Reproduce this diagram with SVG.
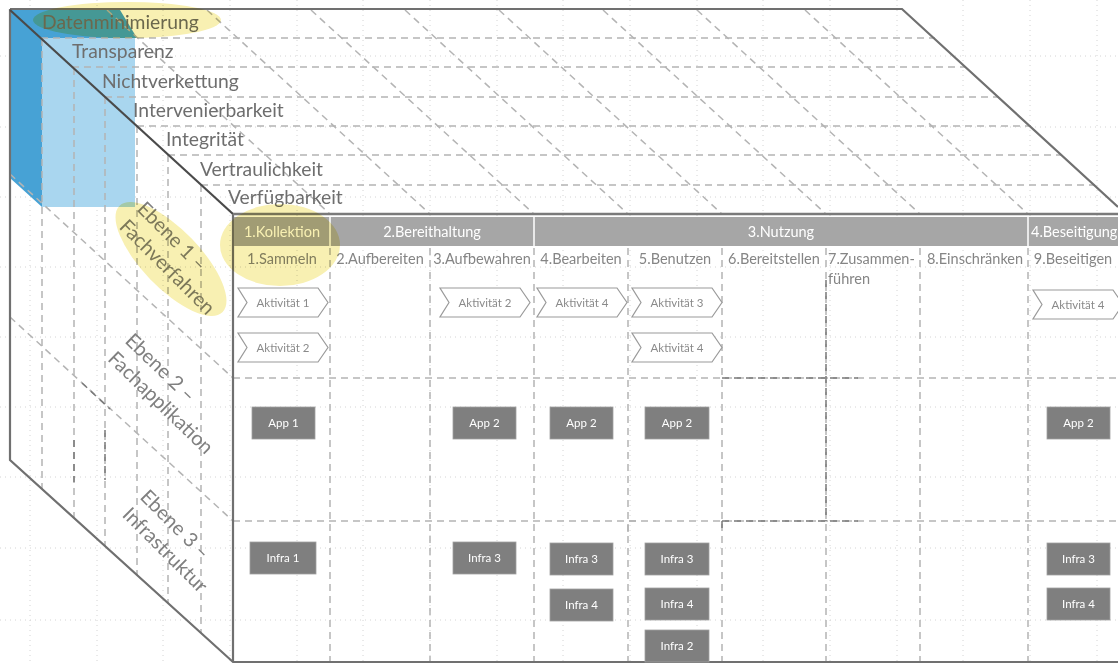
<svg xmlns="http://www.w3.org/2000/svg" xmlns:xlink="http://www.w3.org/1999/xlink" width="1118" height="664" viewBox="0 0 1118 664">
<style>
  text { font-family: Lato, "Open Sans", "Liberation Sans", sans-serif; }
  .lbl { font-size: 19.3px; fill: #6e6e6e; }
  .ebene { font-size: 20px; fill: #808080; }
  .hdr { font-size: 14.5px; fill: #ffffff; text-anchor: middle; }
  .step { font-size: 14.5px; fill: #858585; text-anchor: middle; }
  .grid { stroke: #d4d4d4; stroke-width: 1; stroke-dasharray: 1 4; fill: none; }
  .dash { stroke: #b4b4b4; stroke-width: 1.5; stroke-dasharray: 7 5; fill: none; }
  .dashd { stroke: #7a7a7a; stroke-width: 1.5; stroke-dasharray: 7 5; fill: none; }
  .edge { stroke: #707070; stroke-width: 2.2; fill: none; }
  .chev { fill: #ffffff; stroke: #9a9a9a; stroke-width: 1.2; }
  .ctext { font-size: 11.5px; fill: #8a8a8a; text-anchor: middle; }
  .box { fill: #7f7f7f; stroke: #a0a0a0; stroke-width: 0.8; }
  .btext { font-size: 11.5px; fill: #ffffff; text-anchor: middle; }
  .hl { fill: #f8f0b2; mix-blend-mode: multiply; }
</style>
<defs>
  <path id="chev" d="M0,0 H80 L90,14.5 L80,29 H0 L9,14.5 Z"/>
</defs>
<rect x="0" y="0" width="1118" height="664" fill="#ffffff"/>

<!-- background dotted page grid -->
<g id="page-grid" class="grid">
  <path d="M0,56 H1118 M0,127 H1118 M0,197 H1118 M0,267 H1118 M0,337 H1118 M0,407 H1118 M0,477 H1118 M0,548 H1118 M0,620 H1118"/>
  <path d="M30,0 V664 M97,0 V664 M163,0 V664 M230,0 V664 M297,0 V664 M363,0 V664 M430,0 V664 M497,0 V664 M563,0 V664 M630,0 V664 M697,0 V664 M763,0 V664 M830,0 V664 M897,0 V664 M963,0 V664 M1030,0 V664 M1097,0 V664"/>
</g>

<!-- blue highlight on side face -->
<g id="blue-highlight">
  <rect x="42" y="38" width="93" height="169" fill="#a9d6ef"/>
  <polygon points="10,10 120,10 137,38 42,38 42,207 10,178" fill="#47a2d5"/>
</g>

<!-- cube lines -->
<g id="lines">
  <!-- top face horizontal dashed lines -->
  <path class="dash" d="M41,38 H935 M72,67 H966 M105,97 H999 M137,126 H1031 M168,155 H1062 M201,185 H1095"/>
  <!-- top face diagonal dashed lines -->
  <path class="dash" d="M107,10 L330,214 M207,10 L430,214 M311,10 L534,214 M405,10 L628,214 M499,10 L722,214 M603,10 L826,214 M697,10 L920,214 M805,10 L1028,214"/>
  <!-- side face vertical dashed lines -->
  <path class="dash" d="M42,39 V489 M74,68 V518 M105,97 V546 M137,126 V575 M168,155 V603 M201,185 V633"/>
  <!-- side face diagonal dashed lines -->
  <path class="dash" d="M10,174 L233,378 M10,317 L233,521"/>
  <path class="dashd" d="M82,383 L110,409 M74,440 V482 M105,430 V480"/>
  <!-- front face grid -->
  <path class="dash" d="M330,248 V662 M430,248 V662 M534,248 V662 M628,248 V662 M722,248 V662 M826,248 V662 M920,248 V662 M1028,248 V662"/>
  <path class="dash" d="M233,378 H1118 M233,521 H1118"/>
  <path class="dashd" d="M722,378 H858 M826,280 V521 M722,521 H858 M722,521 V532"/>
  <path class="dash" d="M628,532 V521 H640"/>
  <!-- solid edges -->
  <path class="edge" d="M10,9 H902 L1118,207"/>
  <path class="edge" d="M10,9 V460 L233,662 H1118"/>
  <path d="M10,10 L233,214" stroke="#4a4a4a" stroke-width="2.2" fill="none"/>
  <path class="edge" d="M233,214 V662"/>
  <path d="M233,214 H1118" stroke="#7a7a7a" stroke-width="2.5" fill="none"/>
</g>

<!-- top face labels (protection goals) -->
<g id="goals">
  <text class="lbl" x="42" y="29">Datenminimierung</text>
  <text class="lbl" x="72" y="58">Transparenz</text>
  <text class="lbl" x="102" y="88">Nichtverkettung</text>
  <text class="lbl" x="133" y="117">Intervenierbarkeit</text>
  <text class="lbl" x="166" y="146">Integrität</text>
  <text class="lbl" x="200" y="176">Vertraulichkeit</text>
  <text class="lbl" x="228" y="204">Verfügbarkeit</text>
</g>

<!-- side face level labels -->
<g id="ebene1" transform="translate(136,210) rotate(45)">
  <text class="ebene" x="0" y="0">Ebene 1 –</text>
  <text class="ebene" x="0" y="25">Fachverfahren</text>
</g>
<g id="ebene2" transform="translate(124,342) rotate(44)">
  <text class="ebene" x="0" y="0">Ebene 2 –</text>
  <text class="ebene" x="0" y="25">Fachapplikation</text>
</g>
<g id="ebene3" transform="translate(139,498) rotate(45)">
  <text class="ebene" x="0" y="0">Ebene 3 –</text>
  <text class="ebene" x="0" y="25">Infrastruktur</text>
</g>

<!-- front face header -->
<g id="phases">
  <rect x="234" y="217" width="884" height="29" fill="#a6a6a6"/>
  <path d="M330,217 V246 M534,217 V246 M1028,217 V246" stroke="#ffffff" stroke-width="1.5"/>
  <text class="hdr" x="282" y="237">1.Kollektion</text>
  <text class="hdr" x="432" y="237">2.Bereithaltung</text>
  <text class="hdr" x="781" y="237">3.Nutzung</text>
  <text class="hdr" x="1031" y="237" style="text-anchor:start">4.Beseitigung</text>
</g>
<g id="steps">
  <text class="step" x="282" y="264">1.Sammeln</text>
  <text class="step" x="380" y="264">2.Aufbereiten</text>
  <text class="step" x="482" y="264">3.Aufbewahren</text>
  <text class="step" x="581" y="264">4.Bearbeiten</text>
  <text class="step" x="675" y="264">5.Benutzen</text>
  <text class="step" x="774" y="264">6.Bereitstellen</text>
  <text class="step" x="828" y="264" style="text-anchor:start">7.Zusammen-</text>
  <text class="step" x="828" y="284" style="text-anchor:start">führen</text>
  <text class="step" x="975" y="264">8.Einschränken</text>
  <text class="step" x="1073" y="264">9.Beseitigen</text>
</g>

<!-- activities -->
<g id="act-1-sammeln-1"><use href="#chev" x="238" y="288" class="chev"/><text class="ctext" x="283" y="307">Aktivität 1</text></g>
<g id="act-2-sammeln-2"><use href="#chev" x="238" y="333" class="chev"/><text class="ctext" x="283" y="352">Aktivität 2</text></g>
<g id="act-2-aufbewahren"><use href="#chev" x="440" y="288" class="chev"/><text class="ctext" x="485" y="307">Aktivität 2</text></g>
<g id="act-4-bearbeiten"><use href="#chev" x="537" y="288" class="chev"/><text class="ctext" x="582" y="307">Aktivität 4</text></g>
<g id="act-3-benutzen"><use href="#chev" x="632" y="288" class="chev"/><text class="ctext" x="677" y="307">Aktivität 3</text></g>
<g id="act-4-benutzen"><use href="#chev" x="632" y="333" class="chev"/><text class="ctext" x="677" y="352">Aktivität 4</text></g>
<g id="act-4-beseitigen"><use href="#chev" x="1033" y="290" class="chev"/><text class="ctext" x="1078" y="309">Aktivität 4</text></g>

<!-- applications -->
<g id="app-1"><rect class="box" x="252" y="407" width="63" height="32"/><text class="btext" x="283.5" y="427">App 1</text></g>
<g id="app-2-a"><rect class="box" x="453" y="407" width="63" height="32"/><text class="btext" x="484.5" y="427">App 2</text></g>
<g id="app-2-b"><rect class="box" x="550" y="407" width="63" height="32"/><text class="btext" x="581.5" y="427">App 2</text></g>
<g id="app-2-c"><rect class="box" x="645" y="407" width="64" height="32"/><text class="btext" x="677" y="427">App 2</text></g>
<g id="app-2-d"><rect class="box" x="1047" y="407" width="63" height="32"/><text class="btext" x="1078.5" y="427">App 2</text></g>

<!-- infrastructure -->
<g id="infra-1"><rect class="box" x="250" y="542" width="66" height="32"/><text class="btext" x="283" y="562">Infra 1</text></g>
<g id="infra-3-a"><rect class="box" x="453" y="542" width="63" height="32"/><text class="btext" x="484.5" y="562">Infra 3</text></g>
<g id="infra-3-b"><rect class="box" x="550" y="543" width="63" height="32"/><text class="btext" x="581.5" y="563">Infra 3</text></g>
<g id="infra-4-b"><rect class="box" x="550" y="589" width="63" height="32"/><text class="btext" x="581.5" y="609">Infra 4</text></g>
<g id="infra-3-c"><rect class="box" x="645" y="543" width="64" height="32"/><text class="btext" x="677" y="563">Infra 3</text></g>
<g id="infra-4-c"><rect class="box" x="645" y="588" width="64" height="32"/><text class="btext" x="677" y="608">Infra 4</text></g>
<g id="infra-2-c"><rect class="box" x="645" y="630" width="64" height="32"/><text class="btext" x="677" y="650">Infra 2</text></g>
<g id="infra-3-d"><rect class="box" x="1047" y="543" width="63" height="32"/><text class="btext" x="1078.5" y="563">Infra 3</text></g>
<g id="infra-4-d"><rect class="box" x="1047" y="588" width="63" height="32"/><text class="btext" x="1078.5" y="608">Infra 4</text></g>

<!-- yellow marker highlights -->
<g id="yellow-highlight">
  <ellipse class="hl" cx="127" cy="20" rx="94" ry="18"/>
  <ellipse class="hl" cx="171" cy="259" rx="74" ry="29" transform="rotate(46 171 259)"/>
  <ellipse class="hl" cx="280" cy="245" rx="60" ry="41"/>
</g>
</svg>
